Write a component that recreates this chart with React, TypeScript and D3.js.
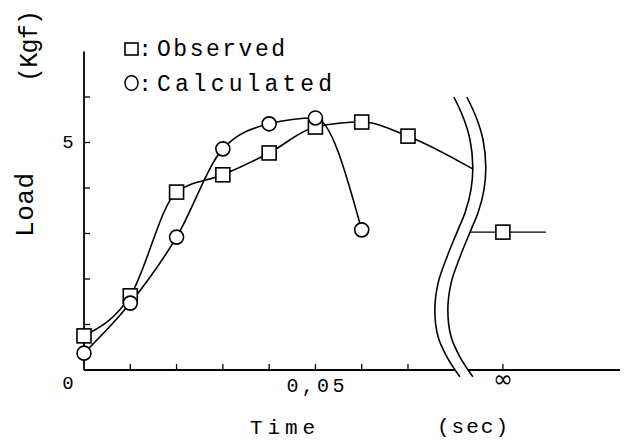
import React from 'react';
import * as d3 from 'd3';

const W = 627;
const H = 441;

// Observed (squares), finite times
const obsTime = [0, 0.01, 0.02, 0.03, 0.04, 0.05, 0.06, 0.07];
const obsLoad = [0.75, 1.63, 3.91, 4.29, 4.77, 5.34, 5.45, 5.14];
// where the observed curve runs into the axis break
const obsBreakTime = 0.084;
const obsBreakLoad = 4.42;
// Calculated (circles)
const calcTime = [0, 0.01, 0.02, 0.03, 0.04, 0.05, 0.06];
const calcLoad = [0.37, 1.47, 2.92, 4.86, 5.41, 5.54, 3.08];
// Observed value at t = infinity
const infLoad = 3.03;
const infPos = 0.0905; // axis position standing for ∞
const infLineStart = 0.0832;
const infLineEnd = 0.0998;
const xAxisEnd = 0.1158;

const xTicks = [0.01, 0.02, 0.03, 0.04, 0.05, 0.06, 0.07];
const yTicks = [1, 2, 3, 4, 5, 6];
const yMax = 7;

// axis break (left wavy line) in data units
const breakTime = [0.0799, 0.0819, 0.0834, 0.0840, 0.0836, 0.0823, 0.0808, 0.0784, 0.0765, 0.0758, 0.0765, 0.0784, 0.0812];
const breakLoad = [6.0, 5.56, 5.06, 4.46, 3.96, 3.45, 3.08, 2.48, 1.91, 1.32, 0.73, 0.29, -0.15];

const FONT = '"Liberation Mono", "DejaVu Sans Mono", monospace';

export default function App() {
  const x = d3.scaleLinear().domain([0, 0.07]).range([84, 408]);
  const y = d3.scaleLinear().domain([0, yMax]).range([370, 51.5]);

  const line = d3
    .line<[number, number]>()
    .x((d) => x(d[0]))
    .y((d) => y(d[1]))
    .curve(d3.curveMonotoneX);

  const obsPts: [number, number][] = obsTime.map((t, i) => [t, obsLoad[i]]);
  const obsPath = line([...obsPts, [obsBreakTime, obsBreakLoad]]) || '';
  const calcPts: [number, number][] = calcTime.map((t, i) => [t, calcLoad[i]]);
  const calcPath = line(calcPts) || '';

  const gap = 13;
  const brk: [number, number][] = breakTime.map((t, i) => [x(t), y(breakLoad[i])]);
  const brkR: [number, number][] = brk.map((p) => [p[0] + gap, p[1]]);
  const curve = d3.line<[number, number]>().curve(d3.curveCatmullRom);
  const brkL = curve(brk) || '';
  const brkRp = curve(brkR) || '';
  const band = (curve(brk) || '') + 'L' + (curve([...brkR].reverse()) || '').slice(1) + 'Z';

  const sq = 14;
  const sw = 1.6;

  return (
    <div style={{ position: 'absolute', left: 0, top: 0 }}>
      <svg width={W} height={H} style={{ display: 'block', background: '#fff' }}>
        <rect width={W} height={H} fill="#fff" />
        {/* axes */}
        <line x1={x(0)} y1={y(0)} x2={x(0)} y2={y(yMax)} stroke="#000" strokeWidth={1.8} />
        <line x1={x(0)} y1={y(0)} x2={x(xAxisEnd)} y2={y(0)} stroke="#000" strokeWidth={1.8} />
        {yTicks.map((v) => (
          <line key={'yt' + v} x1={x(0)} x2={x(0) + 6} y1={y(v)} y2={y(v)} stroke="#000" strokeWidth={1.3} />
        ))}
        {xTicks.map((v) => (
          <line key={'xt' + v} x1={x(v)} x2={x(v)} y1={y(0)} y2={y(0) - 6} stroke="#000" strokeWidth={1.3} />
        ))}
        <line x1={x(infPos)} x2={x(infPos)} y1={y(0)} y2={y(0) - 6} stroke="#000" strokeWidth={1.3} />

        {/* curves */}
        <path d={obsPath} fill="none" stroke="#000" strokeWidth={1.6} />
        <path d={calcPath} fill="none" stroke="#000" strokeWidth={1.6} />
        <line x1={x(infLineStart)} x2={x(infLineEnd)} y1={y(infLoad)} y2={y(infLoad)} stroke="#000" strokeWidth={1.4} />

        {/* markers */}
        {obsPts.map((p, i) => (
          <rect key={'s' + i} x={x(p[0]) - sq / 2} y={y(p[1]) - sq / 2} width={sq} height={sq} fill="#fff" stroke="#000" strokeWidth={sw} />
        ))}
        <rect x={x(infPos) - sq / 2} y={y(infLoad) - sq / 2} width={sq} height={sq} fill="#fff" stroke="#000" strokeWidth={sw} />
        {calcPts.map((p, i) => (
          <circle key={'c' + i} cx={x(p[0])} cy={y(p[1])} r={7} fill="#fff" stroke="#000" strokeWidth={sw} />
        ))}

        {/* axis break */}
        <path d={band} fill="#fff" stroke="none" />
        <path d={brkL} fill="none" stroke="#000" strokeWidth={1.6} />
        <path d={brkRp} fill="none" stroke="#000" strokeWidth={1.6} />

        {/* tick labels */}
        <g fontFamily={FONT} fill="#000">
          <text x={68} y={389} fontSize={19} textAnchor="middle">0</text>
          <text x={x(0.05)} y={392} fontSize={20} textAnchor="middle" textLength={58} lengthAdjust="spacing">0,05</text>
          <text x={68} y={148} fontSize={19} textAnchor="middle">5</text>
        </g>
        <text x={x(infPos)} y={387} fontSize={24} textAnchor="middle" fontFamily='"DejaVu Sans", sans-serif'>∞</text>

        {/* axis titles */}
        <g fontFamily={FONT} fill="#000">
          <text x={250} y={434} fontSize={21} textLength={65} lengthAdjust="spacing">Time</text>
          <text x={437} y={433} fontSize={21} textLength={71} lengthAdjust="spacing">(sec)</text>
          <text transform="translate(33,205) rotate(-90)" fontSize={26} textAnchor="middle" textLength={64} lengthAdjust="spacing">Load</text>
          <text transform="translate(37,46) rotate(-90)" fontSize={25} textAnchor="middle" textLength={72} lengthAdjust="spacing">(Kgf)</text>
        </g>

        {/* legend */}
        <rect x={125} y={43} width={13} height={12} fill="#fff" stroke="#000" strokeWidth={1.6} />
        <ellipse cx={131.5} cy={83} rx={6.5} ry={7.3} fill="#fff" stroke="#000" strokeWidth={1.5} />
        <g fontFamily={FONT} fill="#000">
          <text x={145} y={56} fontSize={22} textAnchor="middle">:</text>
          <text x={145} y={91} fontSize={22} textAnchor="middle">:</text>
          <text x={157} y={56} fontSize={23} textLength={128} lengthAdjust="spacing">Observed</text>
          <text x={157} y={91} fontSize={23} textLength={175} lengthAdjust="spacing">Calculated</text>
        </g>
      </svg>
    </div>
  );
}
